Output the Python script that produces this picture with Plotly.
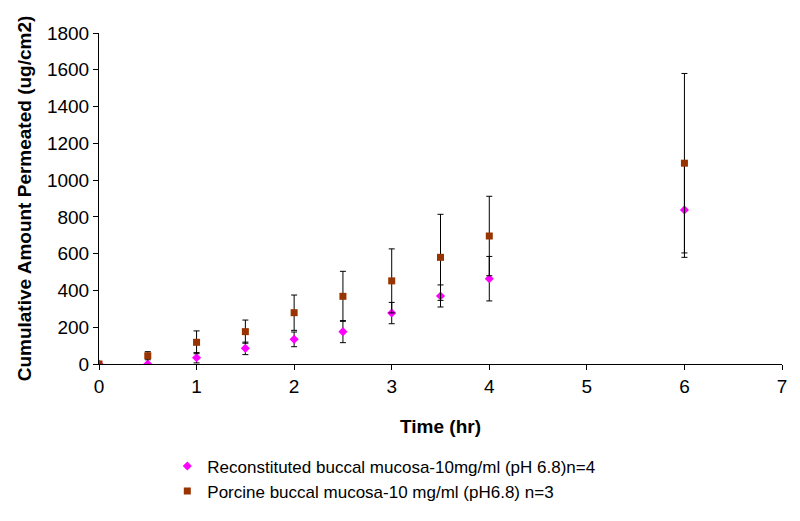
import plotly.graph_objs as go

# colours
COLOR_RECON = '#FF00FF'
COLOR_PORC = '#993300'

time_hr = [0, 0.5, 1, 1.5, 2, 2.5, 3, 3.5, 4, 6]

recon_mean = [0, 0, 34, 85, 134, 176, 277, 370, 464, 838]
recon_sd = [0, 0, 28, 34, 40, 60, 58, 60, 121, 258]

porc_mean = [0, 45, 118, 176, 279, 368, 452, 580, 696, 1092]
porc_sd = [0, 22, 62, 63, 96, 136, 174, 234, 216, 488]

recon_name = 'Reconstituted buccal mucosa-10mg/ml (pH 6.8)n=4'
porc_name = 'Porcine buccal mucosa-10 mg/ml (pH6.8) n=3'

FONT = 'Liberation Sans, Arial, sans-serif'

fig = go.Figure()
fig.add_trace(go.Scatter(
    x=time_hr, y=recon_mean, mode='markers', name=recon_name,
    marker=dict(symbol='diamond', size=7, color=COLOR_RECON),
    error_y=dict(type='data', array=recon_sd, visible=True,
                 color='black', thickness=1, width=3)
))
fig.add_trace(go.Scatter(
    x=time_hr, y=porc_mean, mode='markers', name=porc_name,
    marker=dict(symbol='square', size=7, color=COLOR_PORC),
    error_y=dict(type='data', array=porc_sd, visible=True,
                 color='black', thickness=1, width=3)
))

# the page body adds an 8px offset, so margins are shifted to compensate
fig.update_layout(
    width=800, height=521,
    plot_bgcolor='white', paper_bgcolor='white',
    margin=dict(l=91, r=26, t=25, b=165),
    font=dict(family=FONT, size=19, color='black'),
    showlegend=True,
    legend=dict(
        x=0.1, y=-0.255, xanchor='left', yanchor='top',
        font=dict(size=17),
        tracegroupgap=0,
        itemwidth=30,
    ),
    xaxis=dict(
        range=[0, 7], dtick=1, tick0=0,
        showgrid=False, zeroline=False,
        showline=True, linecolor='black', linewidth=1,
        ticks='outside', ticklen=5, tickcolor='black',
        title=dict(text='<b>Time (hr)</b>', font=dict(size=19), standoff=23),
    ),
    yaxis=dict(
        range=[0, 1800], dtick=200, tick0=0,
        showgrid=False, zeroline=False,
        showline=True, linecolor='black', linewidth=1,
        ticks='outside', ticklen=5, tickcolor='black',
        title=dict(text='<b>Cumulative Amount Permeated (ug/cm2)</b>', font=dict(size=19), standoff=10),
    ),
)

fig.write_html('out.html')
